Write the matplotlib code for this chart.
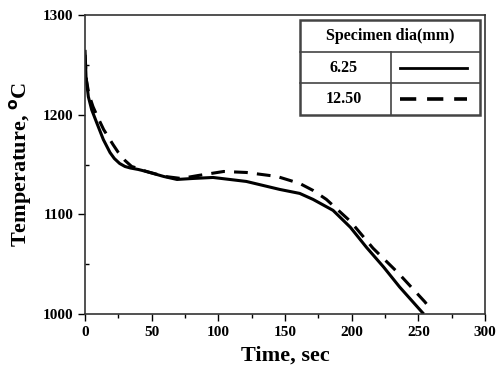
import matplotlib
matplotlib.use('Agg')
import matplotlib.pyplot as plt
from matplotlib.ticker import MultipleLocator
from matplotlib.lines import Line2D
from matplotlib.patches import Rectangle

plt.rcParams['font.family'] = 'Liberation Serif'
plt.rcParams['font.weight'] = 'bold'

# cooling curves
t_small = [0, 0.75, 2.5, 5, 8.75, 13.75, 18.75, 22, 26, 30, 34, 40, 46, 59, 69, 81, 96, 121, 146, 161, 171, 186, 199, 211, 224, 236, 254]
T_small = [1265, 1238, 1218, 1205, 1192, 1175, 1162, 1156, 1151, 1148, 1146.5, 1145, 1143, 1138, 1135, 1136, 1137, 1133, 1125, 1121, 1115, 1104, 1087, 1067, 1047, 1027, 1000]

t_large = [0, 1, 3, 6, 9, 14, 21, 25, 30, 35, 40, 46, 60, 72, 85, 104, 121, 144, 161, 171, 181, 199, 216, 235, 255, 259]
T_large = [1260, 1235, 1220, 1208, 1199, 1185, 1170, 1162, 1154, 1148, 1146, 1143, 1138, 1136, 1139, 1143, 1142, 1138, 1131, 1124, 1115, 1093, 1066, 1041, 1012, 1005]

legend_title = 'Specimen dia(mm)'
legend_labels = ['6.25', '12.50']

fig = plt.figure(figsize=(4.96, 3.74), dpi=100)
ax = fig.add_axes([0.1714, 0.1604, 0.8065, 0.7995])

dash = (0, (4.5, 3))
ax.plot(t_small, T_small, color='black', lw=2.2, solid_capstyle='butt')
ax.plot(t_large, T_large, color='black', lw=2.2, linestyle=dash)

ax.set_xlim(0, 300)
ax.set_ylim(1000, 1300)
ax.xaxis.set_major_locator(MultipleLocator(50))
ax.xaxis.set_minor_locator(MultipleLocator(25))
ax.yaxis.set_major_locator(MultipleLocator(100))
ax.yaxis.set_minor_locator(MultipleLocator(50))
ax.tick_params(axis='both', which='major', direction='out', length=5, width=1, labelsize=11)
ax.tick_params(axis='y', which='minor', direction='in', length=3, width=1)
ax.tick_params(axis='x', which='minor', direction='out', length=3, width=1)
for s in ax.spines.values():
    s.set_linewidth(1.2)
    s.set_color('#333333')

ax.set_xlabel('Time, sec', fontsize=16, fontweight='bold', labelpad=5)
ax.set_ylabel('Temperature, $\\mathbf{^{o}}$C', fontsize=16, fontweight='bold', labelpad=6)

# table-style legend in the upper right
x0, x1, xm = 0.5375, 0.9875, 0.765
y_top, y_r1, y_r2, y_bot = 0.983, 0.876, 0.7726, 0.6656
tr = ax.transAxes
ax.add_patch(Rectangle((x0, y_bot), x1 - x0, y_top - y_bot, transform=tr,
                       facecolor='white', edgecolor='#444444', lw=1.8, zorder=5))
for y in [y_r1, y_r2]:
    ax.add_line(Line2D([x0, x1], [y, y], transform=tr, color='#444444', lw=1.2, zorder=6))
ax.add_line(Line2D([xm, xm], [y_bot, y_r1], transform=tr, color='#444444', lw=1.2, zorder=6))

ax.text((x0 + x1) / 2, (y_top + y_r1) / 2, legend_title, transform=tr,
        ha='center', va='center', fontsize=11.5, fontweight='bold', zorder=7)
styles = ['-', dash]
for i, (lab, ls) in enumerate(zip(legend_labels, styles)):
    yc = [(y_r1 + y_r2) / 2, (y_r2 + y_bot) / 2][i]
    ax.text((x0 + xm) / 2 - 0.005, yc, lab, transform=tr, ha='center', va='center',
            fontsize=11.5, fontweight='bold', zorder=7)
    ax.add_line(Line2D([0.788, 0.955], [yc, yc], transform=tr, color='black',
                       lw=2.0 if i == 0 else 2.6, linestyle=ls, zorder=7))

fig.savefig('out.png', dpi=100)
